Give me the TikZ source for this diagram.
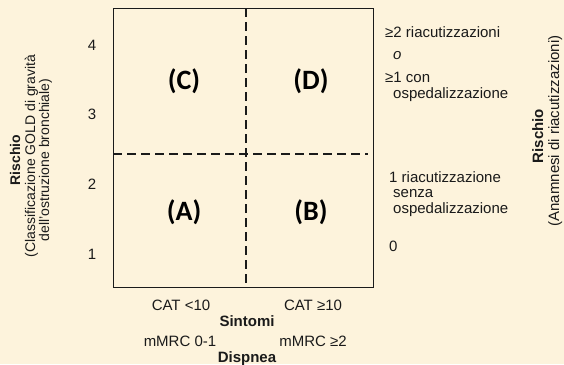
\documentclass[tikz,border=0pt]{standalone}
\usepackage{fontspec}
\setmainfont{Liberation Sans}
\newfontfamily\calib{Carlito}
\definecolor{bgcream}{HTML}{FDF3DC}
\definecolor{ink}{HTML}{1A1A1A}
\begin{document}
\begin{tikzpicture}[x=1pt,y=-1pt,
  txt/.style={font=\fontsize{15}{17}\selectfont, text=ink, inner sep=0pt, anchor=base west},
  ctxt/.style={font=\fontsize{15}{17}\selectfont, text=ink, inner sep=0pt, anchor=base},
  rot/.style={font=\fontsize{14}{16}\selectfont, text=ink, inner sep=0pt, anchor=base, rotate=90},
  rotb/.style={rot, font=\fontsize{15}{17}\selectfont},
  quad/.style={font=\calib\bfseries\fontsize{28}{30}\selectfont, text=black, inner sep=0pt},
  dashline/.style={line width=2.3pt, dash pattern=on 8.5pt off 5.5pt, draw=ink},
  frame/.style={draw=ink, line width=1.3pt, minimum width=260pt, minimum height=279pt, inner sep=0pt, anchor=north west}
]
\fill[bgcream] (0,0) rectangle (564,364);
\useasboundingbox (0,0) rectangle (564,364);

\node[frame] (box) at (113,8) {};
\coordinate (vt) at (246,8);
\coordinate (vb) at (246,287);
\coordinate (hl) at (113,154);
\coordinate (hr) at (368,154);
\draw[dashline] (vt) -- (vb);
\draw[dashline] (hl) -- (hr);

\node[quad] (qc) at (184,81) {(C)};
\node[quad] (qd) at (311,81) {(D)};
\node[quad] (qa) at (184,212) {(A)};
\node[quad] (qb) at (311,212) {(B)};

\node[ctxt] (y4) at (92,50) {4};
\node[ctxt] (y3) at (92,119) {3};
\node[ctxt] (y2) at (92,189) {2};
\node[ctxt] (y1) at (92,259) {1};

\node[rot] (lr1) at (20,160) {\bfseries Rischio};
\node[rot] (lr2) at (35,156) {(Classificazione GOLD di gravità};
\node[rot] (lr3) at (49,160) {dell'ostruzione bronchiale)};

\node[rotb] (rr1) at (543,136) {\bfseries Rischio};
\node[rotb] (rr2) at (559,131) {(Anamnesi di riacutizzazioni)};

\node[txt] (r1) at (385,37) {≥2 riacutizzazioni};
\node[txt] (r2) at (393,59) {\itshape o};
\node[txt] (r3) at (385,82) {≥1 con};
\node[txt] (r4) at (393,98) {ospedalizzazione};
\node[txt] (r5) at (389,182) {1 riacutizzazione};
\node[txt] (r6) at (393,197) {senza};
\node[txt] (r7) at (393,213) {ospedalizzazione};
\node[txt] (r8) at (389,251) {0};

\node[ctxt] (b1) at (181,310) {CAT <10};
\node[ctxt] (b2) at (313,310) {CAT ≥10};
\node[ctxt] (b3) at (247,326) {\bfseries Sintomi};
\node[ctxt] (b4) at (180,346) {mMRC 0-1};
\node[ctxt] (b5) at (313,346) {mMRC ≥2};
\node[ctxt] (b6) at (247,362) {\bfseries Dispnea};
\end{tikzpicture}
\end{document}
